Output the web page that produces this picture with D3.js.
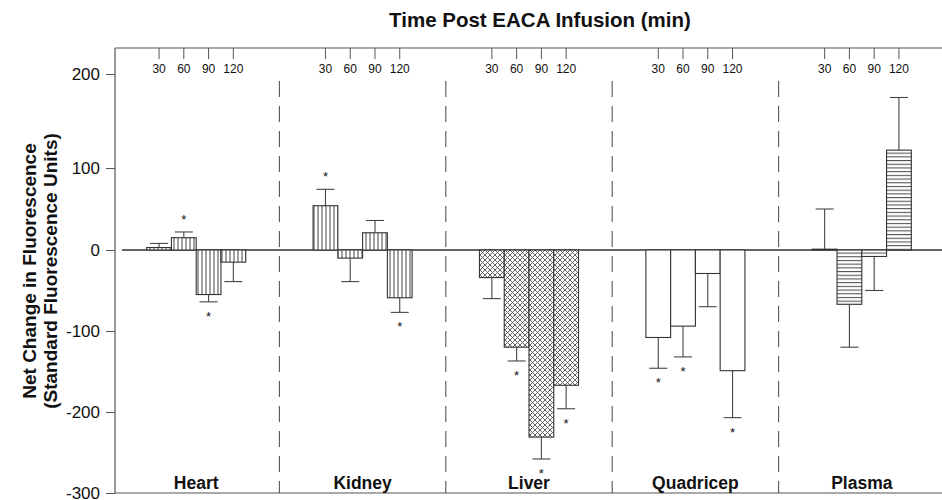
<!DOCTYPE html>
<html>
<head>
<meta charset="utf-8">
<script src="https://cdn.jsdelivr.net/npm/d3@7"></script>
<style>
  body { margin: 0; background: #fff; }
  text { font-family: Arial, "Liberation Sans", sans-serif; fill: #111; }
</style>
</head>
<body>
<div id="chart"></div>
<script>
// Data
const organs = ["Heart", "Kidney", "Liver", "Quadricep", "Plasma"];
const times = ["30", "60", "90", "120"];
const yTicks = [200, 100, 0, -100, -200, -300];

const heartMean = [3, 15, -55, -15];
const heartErr = [5, 7, 9, 24];
const heartSig = [false, true, true, false];

const kidneyMean = [54, -10, 21, -59];
const kidneyErr = [20, 29, 15, 18];
const kidneySig = [true, false, false, true];

const liverMean = [-34, -120, -231, -167];
const liverErr = [26, 17, 27, 29];
const liverSig = [false, true, true, true];

const quadMean = [-108, -94, -29, -149];
const quadErr = [38, 38, 41, 58];
const quadSig = [true, true, false, true];

const plasmaMean = [1, -67, -8, 119];
const plasmaErr = [49, 53, 42, 56];
const plasmaSig = [false, false, false, false];

const fills = ["url(#vline)", "url(#vline)", "url(#cross)", "#fff", "url(#hline)"];

const means = [heartMean, kidneyMean, liverMean, quadMean, plasmaMean];
const errs = [heartErr, kidneyErr, liverErr, quadErr, plasmaErr];
const sigs = [heartSig, kidneySig, liverSig, quadSig, plasmaSig];

const rows = [];
organs.forEach((o, i) => {
  times.forEach((t, j) => {
    rows.push({ organ: o, time: t, value: means[i][j], err: errs[i][j], sig: sigs[i][j], fill: fills[i] });
  });
});

const width = 942;
const height = 500;
const plotLeft = 115, plotTop = 48, plotBottom = 493;

const svg = d3.select("#chart")
  .append("svg")
  .attr("width", width)
  .attr("height", height);

// Patterns
const defs = svg.append("defs");
const pv = defs.append("pattern").attr("id", "vline")
  .attr("patternUnits", "userSpaceOnUse").attr("width", 4).attr("height", 4);
pv.append("rect").attr("width", 4).attr("height", 4).attr("fill", "#fff");
pv.append("line").attr("x1", 2).attr("x2", 2).attr("y1", 0).attr("y2", 4)
  .attr("stroke", "#444").attr("stroke-width", 1);

const ph = defs.append("pattern").attr("id", "hline")
  .attr("patternUnits", "userSpaceOnUse").attr("width", 4).attr("height", 3.7);
ph.append("rect").attr("width", 4).attr("height", 3.7).attr("fill", "#fff");
ph.append("line").attr("x1", 0).attr("x2", 4).attr("y1", 1.5).attr("y2", 1.5)
  .attr("stroke", "#444").attr("stroke-width", 1);

const pc = defs.append("pattern").attr("id", "cross")
  .attr("patternUnits", "userSpaceOnUse").attr("width", 5).attr("height", 5);
pc.append("rect").attr("width", 5).attr("height", 5).attr("fill", "#fff");
pc.append("path").attr("d", "M0,0L5,5M5,0L0,5M-1,4L1,6M4,-1L6,1M4,6L6,4M-1,1L1,-1")
  .attr("stroke", "#555").attr("stroke-width", 0.9).attr("fill", "none");

// Scales
const x0 = d3.scaleBand().domain(organs).range([113, 945]);
const x1 = d3.scaleBand().domain(times).range([0, x0.bandwidth()])
  .paddingInner(0).paddingOuter(1.36);
// the scanned axis is slightly uneven, so follow its tick positions
const y = d3.scaleLinear().domain([-300, 0, 100, 200]).range([plotBottom, 250, 168, 74]);

// Frame
svg.append("line").attr("x1", plotLeft).attr("x2", width).attr("y1", plotTop).attr("y2", plotTop)
  .attr("stroke", "#555").attr("stroke-width", 1.2);
svg.append("line").attr("x1", plotLeft).attr("x2", width).attr("y1", plotBottom).attr("y2", plotBottom)
  .attr("stroke", "#555").attr("stroke-width", 1.2);

// Y axis
const yAxis = svg.append("g")
  .attr("transform", `translate(${plotLeft},0)`)
  .call(d3.axisLeft(y).tickValues(yTicks).tickSize(9).tickPadding(6).tickFormat(d => String(d)));
yAxis.select(".domain").attr("d", `M0,${plotTop}V${plotBottom}`).attr("stroke", "#555").attr("stroke-width", 1.2);
yAxis.selectAll(".tick line").attr("stroke", "#555");
yAxis.selectAll(".tick text").style("font-size", "17px").attr("fill", "#222");

// Dashed panel separators
svg.selectAll(".sep")
  .data(organs.slice(1))
  .enter().append("line")
  .attr("class", "sep")
  .attr("x1", d => x0(d)).attr("x2", d => x0(d))
  .attr("y1", 81).attr("y2", plotBottom)
  .attr("stroke", "#555").attr("stroke-width", 1.1)
  .attr("stroke-dasharray", "16,9");

// Time ticks at top for each organ
organs.forEach(o => {
  const g = svg.append("g")
    .attr("transform", `translate(${x0(o)},${plotTop})`)
    .call(d3.axisBottom(x1).tickSize(11).tickPadding(5));
  g.select(".domain").remove();
  g.selectAll(".tick line").attr("stroke", "#555");
  g.selectAll(".tick text").style("font-size", "12px").attr("fill", "#222");
});

// Zero line
svg.append("line").attr("x1", 122).attr("x2", width).attr("y1", y(0)).attr("y2", y(0))
  .attr("stroke", "#333").attr("stroke-width", 1.3);

// Bars
const bx = d => x0(d.organ) + x1(d.time);
svg.selectAll(".bar")
  .data(rows)
  .enter().append("rect")
  .attr("class", "bar")
  .attr("x", bx)
  .attr("width", x1.bandwidth())
  .attr("y", d => Math.min(y(d.value), y(0)))
  .attr("height", d => Math.abs(y(d.value) - y(0)))
  .attr("fill", d => d.fill)
  .attr("stroke", "#333")
  .attr("stroke-width", 1.1);

// Error bars (one-sided, away from zero)
const capW = 18;
const tipY = d => y(d.value + (d.value >= 0 ? d.err : -d.err));
const eb = svg.selectAll(".err").data(rows).enter().append("g").attr("class", "err");
eb.append("line")
  .attr("x1", d => bx(d) + x1.bandwidth() / 2)
  .attr("x2", d => bx(d) + x1.bandwidth() / 2)
  .attr("y1", d => y(d.value))
  .attr("y2", tipY)
  .attr("stroke", "#444").attr("stroke-width", 1.1);
eb.append("line")
  .attr("x1", d => bx(d) + x1.bandwidth() / 2 - capW / 2)
  .attr("x2", d => bx(d) + x1.bandwidth() / 2 + capW / 2)
  .attr("y1", tipY).attr("y2", tipY)
  .attr("stroke", "#444").attr("stroke-width", 1.1);

// Significance stars
svg.selectAll(".star")
  .data(rows.filter(d => d.sig))
  .enter().append("text")
  .attr("class", "star")
  .attr("x", d => bx(d) + x1.bandwidth() / 2)
  .attr("y", d => d.value >= 0 ? tipY(d) - 15 + 7 : tipY(d) + 12 + 7)
  .attr("text-anchor", "middle")
  .style("font-size", "13px")
  .text("*");

// Organ labels
svg.selectAll(".organ")
  .data(organs)
  .enter().append("text")
  .attr("class", "organ")
  .attr("x", d => x0(d) + x0.bandwidth() / 2)
  .attr("y", 489)
  .attr("text-anchor", "middle")
  .style("font-size", "17.5px")
  .style("font-weight", "bold")
  .text(d => d);

// Titles
svg.append("text")
  .attr("x", 540)
  .attr("y", 27)
  .attr("text-anchor", "middle")
  .style("font-size", "20.5px")
  .style("font-weight", "bold")
  .text("Time Post EACA Infusion (min)");

svg.append("text")
  .attr("transform", "rotate(-90)")
  .attr("x", -271)
  .attr("y", 36)
  .attr("text-anchor", "middle")
  .style("font-size", "19px")
  .style("font-weight", "bold")
  .text("Net Change in Fluorescence");
svg.append("text")
  .attr("transform", "rotate(-90)")
  .attr("x", -271)
  .attr("y", 57)
  .attr("text-anchor", "middle")
  .style("font-size", "19px")
  .style("font-weight", "bold")
  .text("(Standard Fluorescence Units)");
</script>
</body>
</html>
